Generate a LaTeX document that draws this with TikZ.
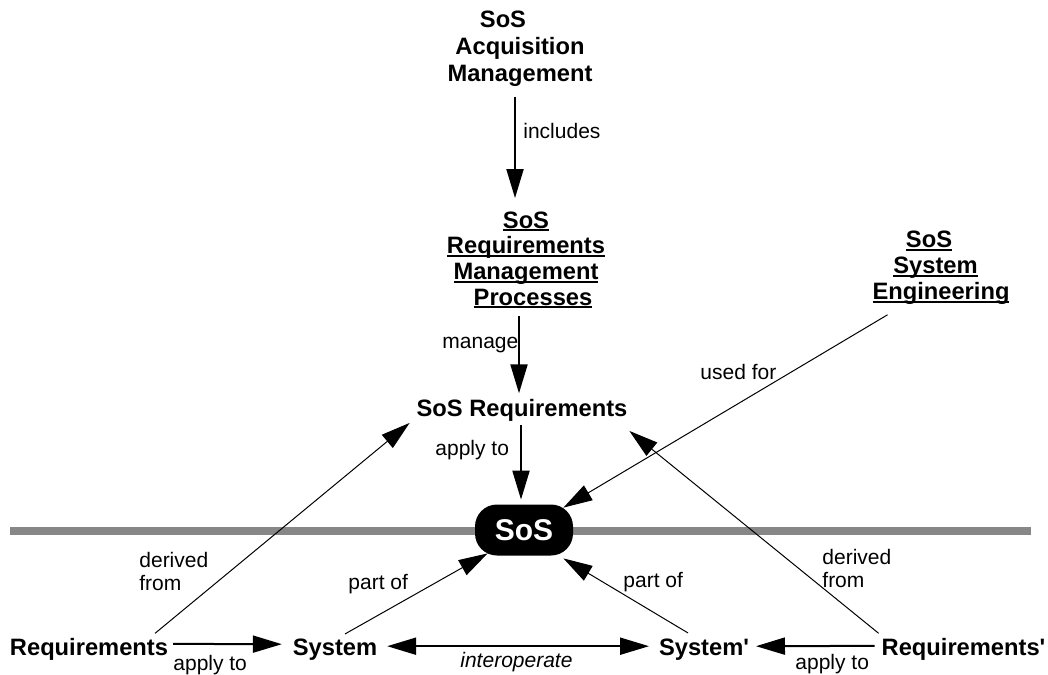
\documentclass[tikz,border=0pt]{standalone}
\usepackage{fontspec}
\setmainfont{Liberation Sans}
\usetikzlibrary{arrows.meta,calc}

% word with a flat underline just below the baseline
\newcommand{\ulword}[1]{\leavevmode\setbox0=\hbox{#1}\rlap{\rule[-1.6pt]{\wd0}{1pt}}\box0}
% straight apostrophe (prime mark)
\newcommand{\sq}{\XeTeXglyph\XeTeXcharglyph"27\relax}

\definecolor{horizongray}{gray}{0.53}

\tikzset{
  concept/.style={font=\fontsize{11.85}{13}\selectfont\bfseries, inner sep=0pt, outer sep=0pt},
  stack/.style={concept, align=center},
  lbl/.style={font=\fontsize{10.5}{11.5}\selectfont, inner sep=0pt, anchor=base west},
  lbltwo/.style={lbl, align=left, anchor=north west},
  link/.style={line width=1pt, -{Triangle[length=14.5pt,width=8.5pt]}},
  thinlink/.style={line width=0.5pt, -{Triangle[length=14.5pt,width=8.5pt]}},
  bothlink/.style={line width=1pt, {Triangle[length=14.5pt,width=8.5pt]}-{Triangle[length=14.5pt,width=8.5pt]}},
  horizon/.style={line width=4pt, draw=horizongray},
  sosbox/.style={fill=black, rounded corners=11pt, minimum width=49pt, minimum height=25.5pt,
    inner sep=0pt, text=white, font=\fontsize{15}{16}\selectfont\bfseries}
}

\begin{document}
\begin{tikzpicture}[x=0.5pt,y=-0.5pt]
\useasboundingbox (0,0) rectangle (1048,674);

% boundary line of the system of systems
\coordinate (barL) at (10,531);
\coordinate (barR) at (1031,531);
\draw[horizon] (barL) -- (barR);

% concepts
\node[stack, font=\fontsize{11.85}{13.5}\selectfont\bfseries] (acq) at (520,49)
  {SoS\kern17pt\\Acquisition\\Management};
\node[stack, font=\fontsize{11.85}{12.85}\selectfont\bfseries] (arm) at (526,260)
  {\ulword{SoS}\\\ulword{Requirements}\\\ulword{Management}\\\kern7pt\ulword{Processes}};
\node[stack] (sse) at (941,268)
  {\ulword{SoS}\kern12pt\\\ulword{System}\kern5.5pt\\\ulword{Engineering}};
\node[concept, anchor=base] (sreq) at (522,416) {SoS Requirements};
\node[sosbox] (sos) at (524,530) {SoS};
\node[concept, anchor=base] (req) at (89,655) {Requirements};
\node[concept, anchor=base] (sys) at (335,655) {System};
\node[concept, anchor=base] (sys2) at (704,655) {System\sq};
\node[concept, anchor=base] (req2) at (963.5,655) {Requirements\sq};

% relations
\draw[link] ($(acq.south)+(-5,10)$) -- ($(arm.north)+(-11,-13.5)$);
\draw[link] ($(arm.south)+(-7,8)$) -- ($(sreq.north)+(-3,-5.5)$);
\draw[link] ($(sreq.south)+(-1,4)$) -- ($(sos.north)+(-3,-4.5)$);
\draw[thinlink] ($(sse.south west)+(15,10)$) -- ($(sos.north east)+(-10,3.5)$);
\draw[thinlink] ($(req.north east)+(-13,-4.5)$) -- ($(sreq.south west)+(-7,2)$);
\draw[thinlink] ($(req2.north west)+(-3,-4.5)$) -- ($(sreq.south east)+(2,10)$);
\draw[thinlink] ($(sys.north)+(10,-4.5)$) -- ($(sos.south west)+(13,-2.5)$);
\draw[thinlink] ($(sys2.north)+(-16,-5.5)$) -- ($(sos.south east)+(-10,2.5)$);
\draw[link] ($(req.east)+(5,-5)$) -- ($(sys.west)+(-11,-5)$);
\draw[bothlink] ($(sys.east)+(10,-3)$) -- ($(sys2.west)+(-10,-3)$);
\draw[link] ($(req2.west)+(-7,-3)$) -- ($(sys2.east)+(7,-3)$);

% relation labels
\node[lbl] (lincl) at (523,138) {includes};
\node[lbl] (lman) at (442,348) {manage};
\node[lbl] (lapp) at (435,455) {apply to};
\node[lbl] (lused) at (700,379) {used for};
\node[lbltwo] (lderl) at (139,551.5) {derived\\from};
\node[lbltwo] (lderr) at (822,548.5) {derived\\from};
\node[lbl] (lpartl) at (348,589) {part of};
\node[lbl] (lpartr) at (623,587) {part of};
\node[lbl] (lappl) at (173,670) {apply to};
\node[lbl] (linter) at (460,667) {\itshape interoperate};
\node[lbl] (lappr) at (795,669) {apply to};
\end{tikzpicture}
\end{document}
